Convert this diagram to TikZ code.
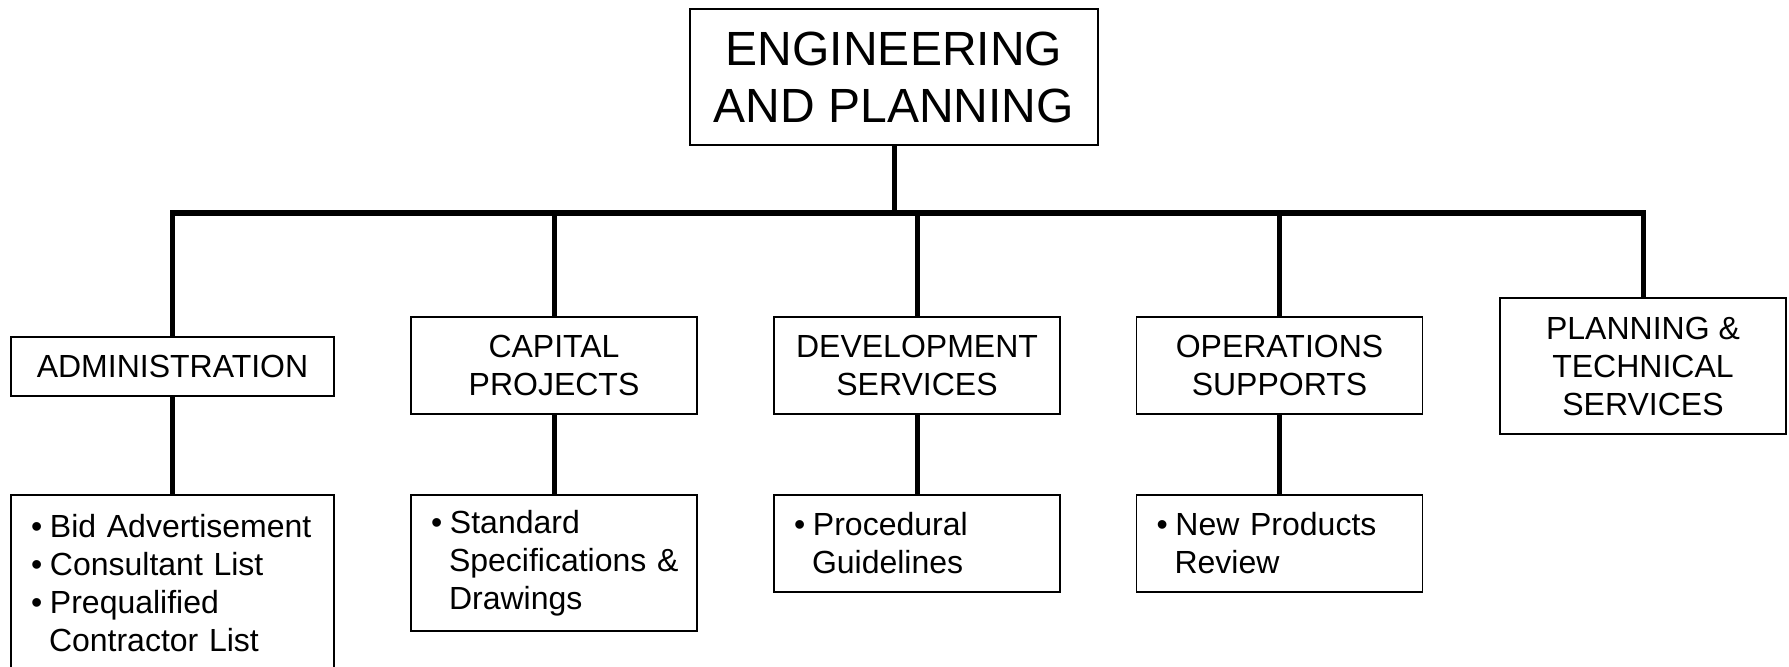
\documentclass[tikz,border=0pt]{standalone}
\usepackage{fontspec}
\setmainfont{Liberation Sans}
\newcommand{\bul}{\hspace*{10pt}\makebox[9.5pt][l]{\textbullet}}
\newcommand{\hang}{\hspace*{19pt}}
\begin{document}
\begin{tikzpicture}[x=0.5pt,y=-0.5pt,
  box/.style={draw=black,line width=0.7pt,rectangle,inner sep=0pt,align=center,
    font=\fontsize{16pt}{19pt}\selectfont},
  titlebox/.style={box,font=\fontsize{24pt}{28.5pt}\selectfont},
  listbox/.style={draw=black,line width=0.7pt,rectangle,inner sep=0pt,align=left,
    font=\fontsize{16pt}{19pt}\selectfont},
  conn/.style={line width=2.5pt,black},
  mainbar/.style={line width=3pt,black,line cap=rect}]
\useasboundingbox (0,0) rectangle (1789,667);
\clip (0,0) rectangle (1789,667);

\node[titlebox,minimum width=204pt,minimum height=68pt] (top) at (894,77) {ENGINEERING\\AND PLANNING};

\node[box,minimum width=161.5pt,minimum height=29.5pt] (admin) at (172.5,366.5) {ADMINISTRATION};
\node[box,minimum width=143pt,minimum height=48.5pt] (cap) at (554,365.5) {CAPITAL\\PROJECTS};
\node[box,minimum width=143pt,minimum height=48.5pt] (dev) at (917,365.5) {DEVELOPMENT\\SERVICES};
\node[box,minimum width=143pt,minimum height=48.5pt] (ops) at (1279.5,365.5) {OPERATIONS\\SUPPORTS};
\node[box,minimum width=143pt,minimum height=68pt] (plan) at (1643,366) {PLANNING \&\\TECHNICAL\\SERVICES};

\node[listbox,text width=161.5pt,minimum height=88pt] (adminlist) at (172.5,583)
  {\bul Bid Advertisement\\\bul Consultant List\\\bul Prequalified\\\hang Contractor List};
\node[listbox,text width=143pt,minimum height=68pt] (caplist) at (554,563)
  {\bul Standard\\\hang Specifications \&\\\hang Drawings};
\node[listbox,text width=143pt,minimum height=48.5pt] (devlist) at (917,543.5)
  {\bul Procedural\\\hang Guidelines};
\node[listbox,text width=143pt,minimum height=48.5pt] (opslist) at (1279.5,543.5)
  {\bul New Products\\\hang Review};

\coordinate (bary) at (0,213);
\draw[conn] (top.south) -- (top.south |- bary);
\draw[mainbar] (admin.north |- bary) -- (plan.north |- bary);
\foreach \n in {admin,cap,dev,ops,plan}{
  \draw[conn] (\n.north |- bary) -- (\n.north);
}
\draw[conn] (admin.south) -- (adminlist.north);
\draw[conn] (cap.south) -- (caplist.north);
\draw[conn] (dev.south) -- (devlist.north);
\draw[conn] (ops.south) -- (opslist.north);
\end{tikzpicture}
\end{document}
